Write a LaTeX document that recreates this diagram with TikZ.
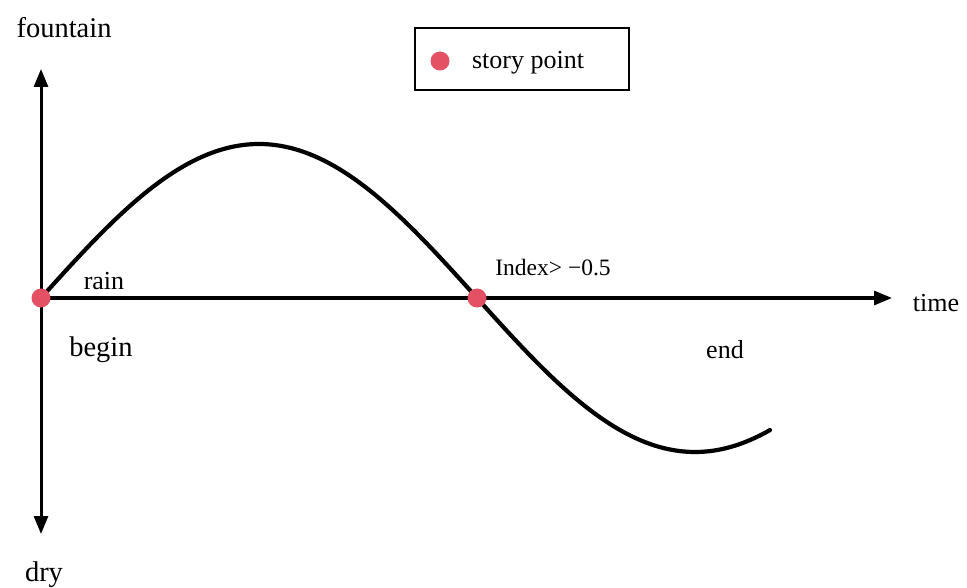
\documentclass[tikz,border=0pt]{standalone}
\usepackage{fontspec}
\setmainfont{Liberation Serif}
\usetikzlibrary{arrows.meta}
\definecolor{storyred}{RGB}{228,80,100}
\tikzset{
  axis/.style={line width=3pt,-{Triangle[length=18pt,width=14pt]}},
  curve/.style={line width=4.2pt,line cap=round},
  lbl/.style={font=\fontsize{26}{28}\selectfont,inner sep=0pt},
  biglbl/.style={font=\fontsize{28.5}{30}\selectfont,inner sep=0pt},
  smalllbl/.style={font=\fontsize{23.5}{25}\selectfont,inner sep=0pt},
  storydot/.style={circle,fill=storyred,minimum size=19pt,inner sep=0pt},
  legendbox/.style={draw,line width=1.6pt,minimum width=214pt,minimum height=62pt,inner sep=0pt}
}
\begin{document}
\begin{tikzpicture}[x=1pt,y=-1pt]
\useasboundingbox (0,0) rectangle (967,588);
\coordinate (origin) at (41,298);
\coordinate (ytop) at (41,69);
\coordinate (ybot) at (41,534);
\coordinate (xend) at (892,298);
\draw[axis] (origin) -- (ytop);
\draw[axis] (origin) -- (ybot);
\draw[axis] (origin) -- (xend);
\draw[curve] plot[domain=0:729,samples=150,smooth] ({41+\x},{298-154*sin(\x/436*180)});
\node[storydot] (p1) at (41,298) {};
\node[storydot] (p2) at (477,298) {};
\node[biglbl] (fountain) at (64,28) {fountain};
\node[biglbl] (dry) at (44,575) {dry};
\node[lbl] (time) at (936,303) {time};
\node[lbl] (rain) at (104,281) {rain};
\node[biglbl] (begin) at (101,350) {begin};
\node[lbl] (end) at (725,350) {end};
\node[smalllbl] (index) at (553,268) {Index> −0.5};
\node[legendbox] (legend) at (522,59) {};
\node[storydot] (ldot) at (440,61) {};
\node[lbl] (ltext) at (528,63) {story point};
\end{tikzpicture}
\end{document}
